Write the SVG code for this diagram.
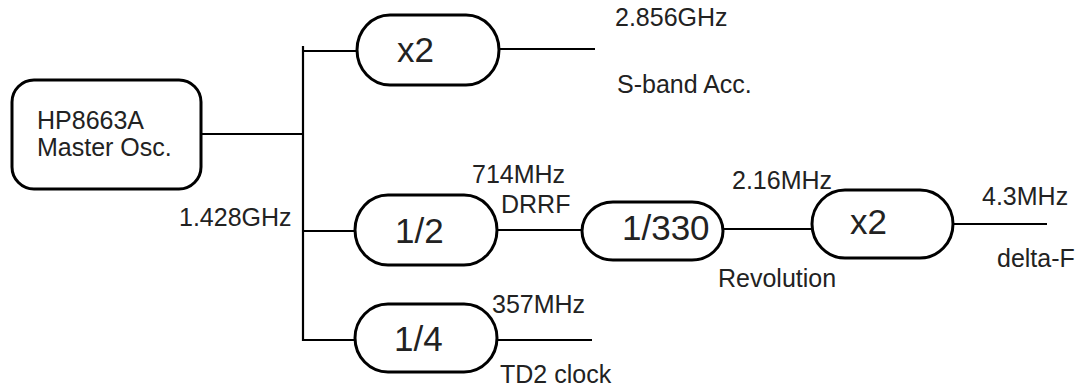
<svg xmlns="http://www.w3.org/2000/svg" width="1077" height="388" viewBox="0 0 1077 388">
<style>
.box{fill:#fff;stroke:#000;stroke-width:3}
.ln{stroke:#000;stroke-width:2.2;fill:none}
.t{font-family:"Liberation Sans",Arial,sans-serif;font-size:25px;fill:#222}
.big{font-family:"Liberation Sans",Arial,sans-serif;font-size:35px;fill:#222}
</style>
<rect width="1077" height="388" fill="#fff"/>
<g id="connectors">
<line class="ln" x1="201" y1="134" x2="303" y2="134"/>
<line class="ln" x1="303" y1="46" x2="303" y2="341"/>
<line class="ln" x1="302" y1="51" x2="357" y2="51"/>
<line class="ln" x1="302" y1="231" x2="355" y2="231"/>
<line class="ln" x1="302" y1="340" x2="355" y2="340"/>
<line class="ln" x1="499" y1="49" x2="595" y2="49"/>
<line class="ln" x1="497" y1="230" x2="582" y2="230"/>
<line class="ln" x1="723" y1="229" x2="812" y2="229"/>
<line class="ln" x1="953" y1="224" x2="1047" y2="224"/>
<line class="ln" x1="497" y1="340" x2="592" y2="340"/>
</g>
<g id="master">
<rect class="box" x="12" y="80" width="189" height="109" rx="22" ry="22"/>
<text class="t" x="37" y="129">HP8663A</text>
<text class="t" x="37" y="156">Master Osc.</text>
</g>
<g id="x2a">
<rect class="box" x="357" y="15" width="142" height="70" rx="33" ry="35"/>
<text class="big" x="397" y="62">x2</text>
</g>
<g id="half">
<rect class="box" x="355" y="195" width="142" height="70" rx="33" ry="35"/>
<text class="big" x="395" y="243">1/2</text>
</g>
<g id="div330">
<rect class="box" x="582" y="202" width="141" height="58" rx="31" ry="29"/>
<text class="big" x="622" y="240">1/330</text>
</g>
<g id="x2b">
<rect class="box" x="812" y="190" width="141" height="68" rx="33" ry="34"/>
<text class="big" x="850" y="234">x2</text>
</g>
<g id="quarter">
<rect class="box" x="355" y="304" width="142" height="68" rx="33" ry="34"/>
<text class="big" x="394" y="351">1/4</text>
</g>
<g id="labels">
<text class="t" x="179" y="226">1.428GHz</text>
<text class="t" x="615" y="26">2.856GHz</text>
<text class="t" x="617" y="93">S-band Acc.</text>
<text class="t" x="472" y="183">714MHz</text>
<text class="t" x="501" y="213">DRRF</text>
<text class="t" x="732" y="189">2.16MHz</text>
<text class="t" x="718" y="287">Revolution</text>
<text class="t" x="982" y="205">4.3MHz</text>
<text class="t" x="997" y="267">delta-F</text>
<text class="t" x="492" y="313">357MHz</text>
<text class="t" x="500" y="383">TD2 clock</text>
</g>
</svg>
